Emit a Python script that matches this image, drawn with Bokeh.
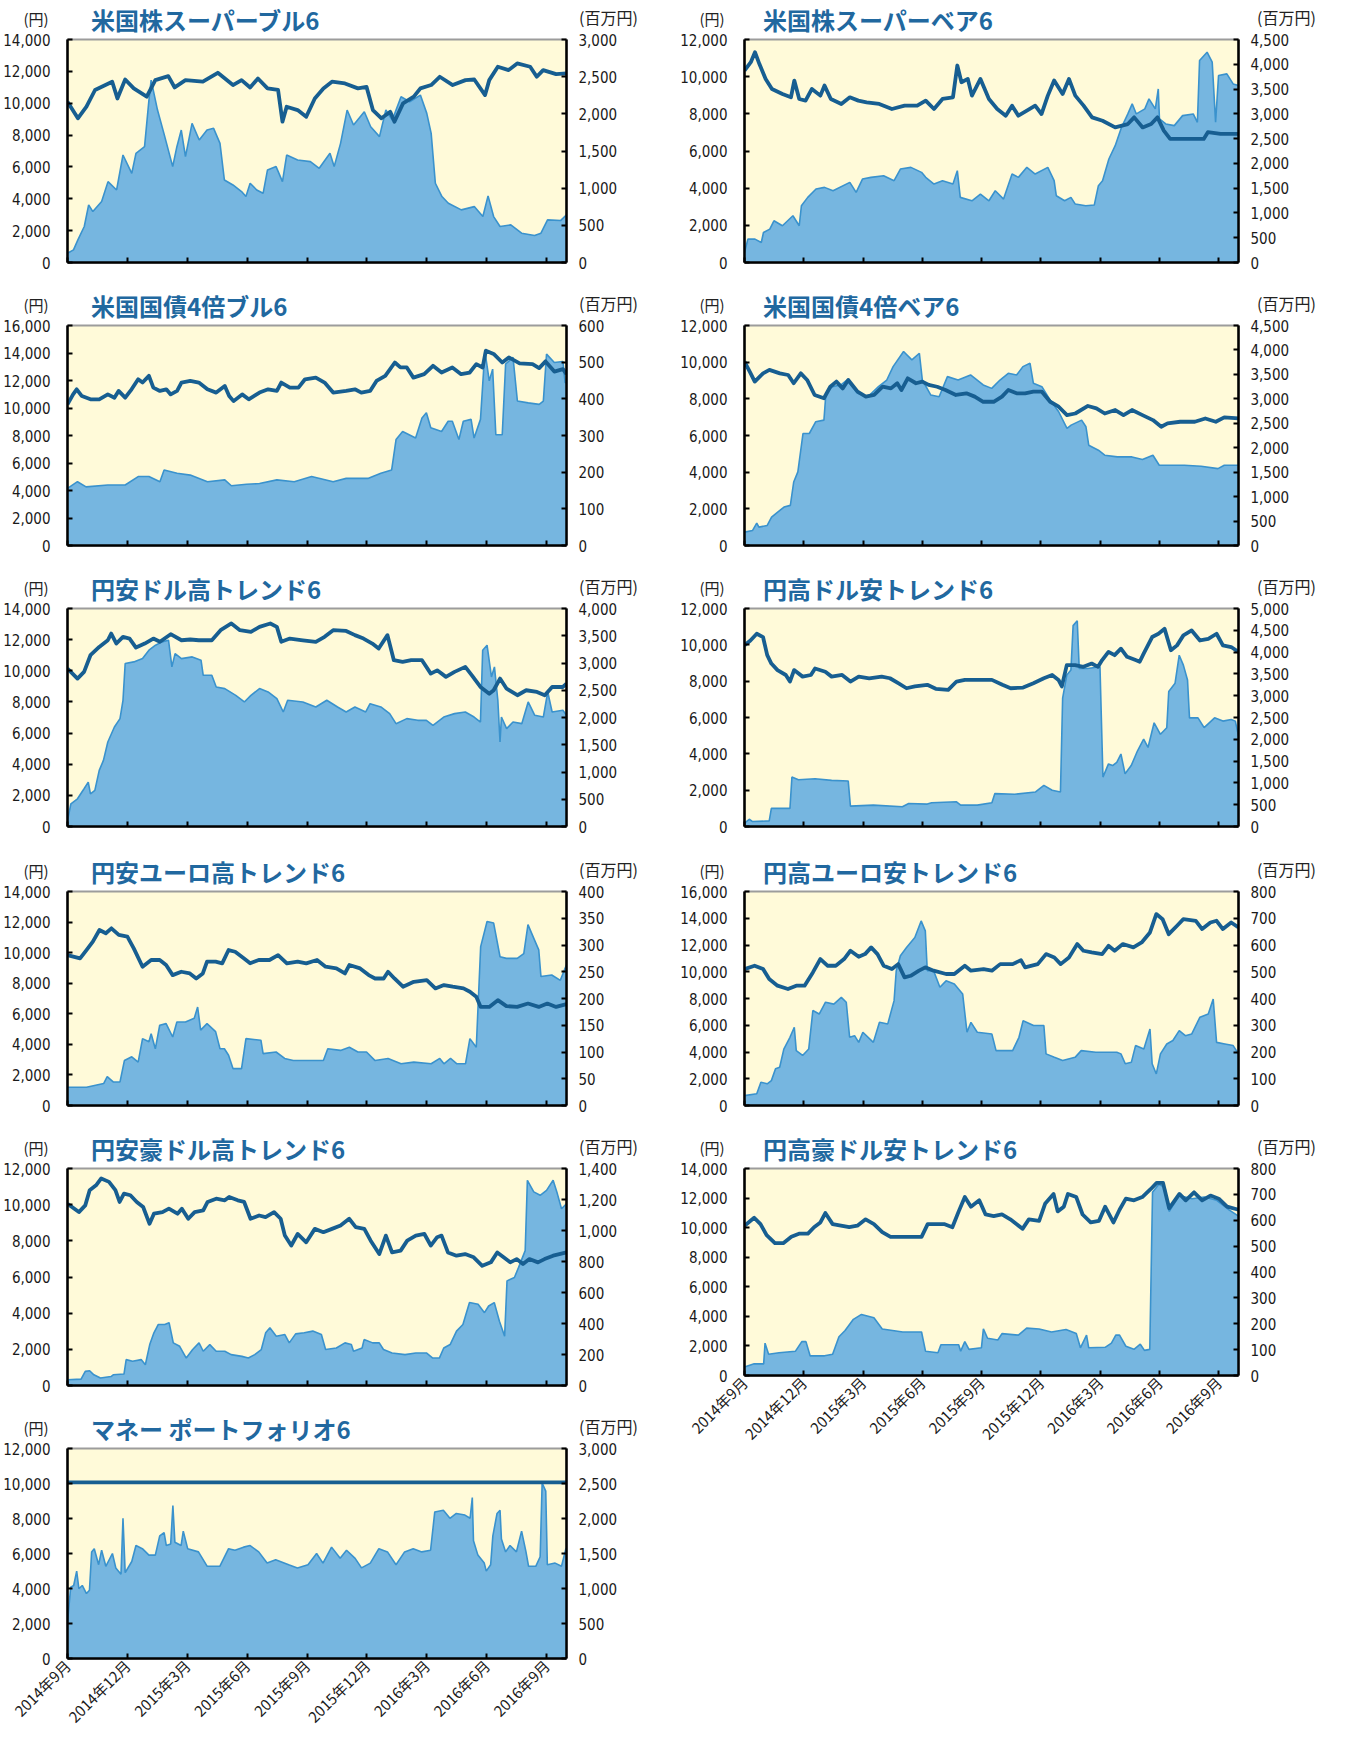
import math
from bokeh.plotting import figure
from bokeh.models import Range1d, LinearAxis, FixedTicker, SingleIntervalTicker, NumeralTickFormatter, Div
from bokeh.layouts import row, column
from bokeh.embed import file_html
from bokeh.resources import INLINE

# ---------------- x axis (months since 2014-09) ----------------
X_TICKS = [0, 3, 6, 9, 12, 15, 18, 21, 24]
X_TICK_LABELS = ["2014年9月", "2014年12月", "2015年3月", "2015年6月", "2015年9月",
                 "2015年12月", "2016年3月", "2016年6月", "2016年9月"]
X_END = 25.0

# ---------------- panel titles / axis ranges ----------------
TITLES_LEFT = ["米国株スーパーブル6", "米国国債4倍ブル6", "円安ドル高トレンド6",
               "円安ユーロ高トレンド6", "円安豪ドル高トレンド6", "マネー ポートフォリオ6"]
TITLES_RIGHT = ["米国株スーパーベア6", "米国国債4倍ベア6", "円高ドル安トレンド6",
                "円高ユーロ安トレンド6", "円高豪ドル安トレンド6"]
UNIT_LEFT = "(円)"
UNIT_RIGHT = "(百万円)"
LEFT_MAX_L = [14000, 16000, 14000, 14000, 12000, 12000]
RIGHT_MAX_L = [3000, 600, 4000, 400, 1400, 3000]
RIGHT_STEP_L = [500, 100, 500, 50, 200, 500]
LEFT_MAX_R = [12000, 12000, 12000, 16000, 14000]
RIGHT_MAX_R = [4500, 4500, 5000, 800, 800]
RIGHT_STEP_R = [500, 500, 500, 100, 100]

# ---------------- series: (month, 円) line, (month, 百万円) area ----------------
US_BULL_PRICE = [(0, 10090), (0.52, 9050), (0.95, 9780), (1.38, 10830), (2.24, 11350), (2.5, 10300), (2.89, 11490),
    (3.32, 10930), (3.97, 10410), (4.4, 11450), (5.05, 11700), (5.37, 10990), (5.91, 11450), (6.78, 11350),
    (7.53, 11910), (8.29, 11140), (8.72, 11450), (9.15, 10990), (9.54, 11550), (10.02, 10930), (10.55, 10830),
    (10.77, 8840), (10.98, 9780), (11.53, 9570), (11.96, 9150), (12.39, 10300), (12.82, 10930), (13.25, 11350),
    (13.9, 11240), (14.55, 10930), (14.98, 11030), (15.3, 9570), (15.73, 9050), (16.17, 9460), (16.38, 8840),
    (16.81, 9990), (17.35, 10410), (17.68, 10930), (18.22, 11140), (18.65, 11660), (19.3, 11140), (19.94, 11450),
    (20.38, 11490), (20.92, 10510), (21.13, 11450), (21.56, 12290), (22.1, 12080), (22.53, 12500), (23.18, 12290),
    (23.51, 11660), (23.83, 12080), (24.48, 11830), (25.0, 11870)]
US_BULL_ASSETS = [(0, 125), (0.3, 170), (0.52, 305), (0.84, 484), (1.06, 775), (1.27, 685), (1.71, 820), (2.03, 1088),
    (2.46, 976), (2.78, 1446), (3.22, 1200), (3.43, 1469), (3.86, 1558), (4.08, 2185), (4.19, 2454), (4.51, 2051),
    (4.83, 1737), (5.27, 1290), (5.48, 1558), (5.7, 1782), (5.91, 1424), (6.24, 1872), (6.6, 1648), (6.99, 1782),
    (7.32, 1805), (7.64, 1603), (7.86, 1110), (8.29, 1043), (8.72, 954), (8.94, 887), (9.15, 1066), (9.48, 976),
    (9.8, 931), (10.02, 1245), (10.45, 1290), (10.77, 1088), (10.98, 1446), (11.53, 1379), (12.17, 1357),
    (12.61, 1267), (13.15, 1469), (13.36, 1290), (13.68, 1603), (14.01, 2051), (14.33, 1850), (14.87, 2028),
    (15.19, 1827), (15.63, 1693), (15.95, 2051), (16.27, 1917), (16.71, 2230), (17.14, 2163), (17.68, 2252),
    (18.0, 2006), (18.22, 1737), (18.43, 1066), (18.76, 887), (19.08, 797), (19.73, 708), (20.38, 752), (20.81, 618),
    (21.07, 896), (21.35, 618), (21.67, 484), (22.21, 506), (22.75, 394), (23.4, 363), (23.72, 394), (24.05, 573),
    (24.7, 564), (25.0, 640)]

US_BEAR_PRICE = [(0, 10330), (0.32, 10780), (0.53, 11320), (0.75, 10690), (1.07, 9880), (1.39, 9340), (1.92, 9070),
    (2.35, 8890), (2.52, 9790), (2.77, 8800), (3.09, 8710), (3.41, 9340), (3.84, 8980), (4.05, 9520), (4.37, 8800),
    (4.9, 8530), (5.33, 8890), (5.76, 8710), (6.18, 8620), (6.82, 8530), (7.46, 8260), (8.1, 8440), (8.74, 8440),
    (9.17, 8710), (9.59, 8260), (10.02, 8800), (10.55, 8890), (10.77, 10600), (10.98, 9700), (11.3, 9880),
    (11.51, 8980), (11.94, 9880), (12.37, 8800), (12.79, 8260), (13.22, 7900), (13.54, 8440), (13.86, 7900),
    (14.29, 8170), (14.71, 8440), (15.03, 7990), (15.35, 8980), (15.67, 9790), (16.1, 9070), (16.42, 9880),
    (16.74, 8980), (17.16, 8440), (17.59, 7810), (18.12, 7630), (18.76, 7270), (19.4, 7450), (19.72, 7810),
    (20.15, 7270), (20.58, 7450), (20.9, 7810), (21.22, 7100), (21.54, 6650), (22.39, 6650), (23.24, 6650),
    (23.45, 7010), (24.09, 6920), (25.0, 6920)]
US_BEAR_ASSETS = [(0, 202), (0.17, 472), (0.53, 472), (0.85, 404), (0.96, 606), (1.28, 674), (1.49, 842), (1.92, 741),
    (2.45, 943), (2.77, 741), (2.88, 1145), (3.2, 1314), (3.62, 1482), (4.05, 1516), (4.48, 1448), (5.33, 1617),
    (5.65, 1415), (5.97, 1684), (6.4, 1718), (7.04, 1752), (7.57, 1651), (7.89, 1886), (8.42, 1920), (8.96, 1819),
    (9.17, 1718), (9.59, 1583), (10.02, 1651), (10.55, 1583), (10.77, 1853), (10.92, 1314), (11.51, 1246),
    (11.94, 1381), (12.37, 1246), (12.69, 1448), (13.11, 1280), (13.54, 1785), (13.86, 1718), (14.29, 1920),
    (14.71, 1785), (15.35, 1920), (15.67, 1651), (15.78, 1347), (16.2, 1246), (16.52, 1314), (16.74, 1179),
    (17.27, 1145), (17.7, 1159), (17.91, 1550), (18.12, 1651), (18.44, 2088), (18.76, 2358), (19.08, 2728),
    (19.4, 2998), (19.62, 3200), (19.83, 2998), (20.26, 3099), (20.47, 3301), (20.79, 3099), (20.94, 3503),
    (21.0, 2897), (21.32, 2796), (21.75, 2762), (22.17, 2964), (22.71, 2998), (22.92, 2829), (23.03, 4076),
    (23.41, 4244), (23.67, 4042), (23.84, 2829), (23.99, 3773), (24.41, 3806), (24.73, 3604), (25.0, 3570)]

UST_BULL_PRICE = [(0, 10260), (0.28, 10990), (0.46, 11360), (0.72, 10870), (1.15, 10630), (1.59, 10630), (2.02, 10990),
    (2.35, 10750), (2.56, 11240), (2.89, 10750), (3.21, 11360), (3.54, 12090), (3.76, 11850), (4.08, 12340),
    (4.3, 11480), (4.63, 11240), (4.95, 11360), (5.17, 10990), (5.49, 11240), (5.71, 11850), (6.15, 11970),
    (6.58, 11850), (7.01, 11360), (7.45, 11120), (7.88, 11600), (8.1, 10870), (8.32, 10500), (8.75, 10990),
    (9.08, 10630), (9.62, 11120), (10.05, 11360), (10.49, 11240), (10.71, 11850), (11.14, 11480), (11.57, 11480),
    (11.9, 12090), (12.44, 12210), (12.88, 11850), (13.31, 11120), (13.96, 11240), (14.4, 11360), (14.72, 11120),
    (15.16, 11240), (15.48, 11970), (15.92, 12340), (16.4, 13310), (16.68, 12950), (17.0, 12950), (17.33, 12210),
    (17.87, 12460), (18.31, 13070), (18.74, 12580), (19.28, 12950), (19.72, 12460), (20.15, 12580), (20.48, 13190),
    (20.8, 12950), (20.96, 14170), (21.35, 13930), (21.78, 13310), (22.11, 13680), (22.65, 13240), (23.3, 13190),
    (23.63, 12900), (23.95, 13390), (24.39, 12650), (24.82, 12830), (25.0, 12460)]
UST_BULL_ASSETS = [(0, 156), (0.5, 174), (0.93, 160), (2.02, 165), (2.89, 165), (3.54, 188), (4.08, 188), (4.63, 174),
    (4.84, 206), (5.49, 197), (6.15, 192), (7.01, 174), (7.88, 179), (8.21, 163), (8.97, 167), (9.62, 169),
    (10.49, 179), (11.36, 174), (12.23, 188), (13.31, 174), (13.96, 183), (15.05, 183), (15.7, 197), (16.24, 206),
    (16.46, 289), (16.79, 311), (17.44, 293), (17.76, 348), (17.98, 362), (18.2, 321), (18.74, 311), (19.07, 339),
    (19.28, 339), (19.61, 289), (19.83, 339), (20.22, 344), (20.37, 293), (20.69, 344), (20.91, 531), (21.13, 449),
    (21.3, 481), (21.46, 302), (21.78, 302), (21.95, 495), (22.32, 513), (22.54, 394), (23.08, 389), (23.63, 385),
    (23.84, 394), (24.0, 522), (24.39, 499), (24.82, 502), (24.93, 444), (25.0, 444)]

UST_BEAR_PRICE = [(0, 10030), (0.31, 9390), (0.52, 8940), (0.94, 9390), (1.26, 9580), (1.79, 9390), (2.21, 9300),
    (2.49, 8850), (2.85, 9390), (3.17, 9030), (3.55, 8210), (4.02, 8030), (4.34, 8660), (4.65, 8940), (4.97, 8570),
    (5.25, 9030), (5.72, 8390), (6.14, 8120), (6.56, 8210), (6.99, 8660), (7.41, 8570), (7.73, 8850), (7.94, 8480),
    (8.26, 9120), (8.68, 8850), (9.0, 8940), (9.32, 8760), (9.75, 8660), (10.17, 8480), (10.7, 8210), (11.23, 8300),
    (11.65, 8120), (12.08, 7840), (12.61, 7840), (13.03, 8120), (13.35, 8480), (13.77, 8300), (14.2, 8300),
    (14.62, 8390), (15.05, 8390), (15.47, 7840), (15.9, 7570), (16.32, 7110), (16.74, 7200), (17.38, 7610),
    (17.81, 7480), (18.23, 7200), (18.76, 7390), (19.18, 7110), (19.61, 7390), (20.14, 7110), (20.67, 6840),
    (21.09, 6480), (21.41, 6660), (22.05, 6750), (22.79, 6750), (23.32, 6930), (23.85, 6750), (24.28, 6990),
    (25.0, 6930)]
UST_BEAR_ASSETS = [(0, 274), (0.41, 308), (0.62, 458), (0.73, 376), (1.15, 410), (1.37, 581), (1.68, 684), (2.0, 786),
    (2.32, 821), (2.49, 1299), (2.7, 1505), (2.96, 2291), (3.28, 2291), (3.6, 2531), (4.02, 2565), (4.12, 3112),
    (4.44, 3249), (4.87, 3283), (5.18, 3385), (5.72, 3112), (6.24, 3043), (6.78, 3249), (7.2, 3385), (7.52, 3659),
    (8.05, 3967), (8.47, 3796), (8.85, 3932), (9.0, 3385), (9.43, 3078), (9.85, 3043), (10.27, 3454), (10.81, 3385),
    (11.44, 3488), (12.08, 3283), (12.51, 3214), (12.93, 3385), (13.35, 3522), (13.77, 3488), (14.09, 3659),
    (14.45, 3727), (14.62, 3317), (15.05, 3249), (15.47, 2975), (15.9, 2736), (16.32, 2394), (16.53, 2462),
    (17.06, 2565), (17.28, 2428), (17.42, 2052), (17.91, 1949), (18.23, 1847), (18.87, 1812), (19.61, 1812),
    (20.14, 1758), (20.67, 1847), (20.99, 1641), (21.63, 1641), (22.26, 1641), (23.11, 1621), (23.96, 1573),
    (24.28, 1641), (25.0, 1641)]

USD_BULL_PRICE = [(0, 10140), (0.5, 9500), (0.83, 9930), (1.15, 11000), (1.59, 11530), (2.02, 11960), (2.19, 12390),
    (2.45, 11750), (2.78, 12180), (3.11, 12070), (3.43, 11490), (3.87, 11750), (4.3, 12070), (4.63, 11860),
    (5.17, 12350), (5.71, 11960), (6.15, 12010), (6.58, 11960), (7.23, 11960), (7.67, 12610), (8.21, 13040),
    (8.64, 12610), (9.19, 12500), (9.62, 12820), (10.16, 13040), (10.49, 12820), (10.71, 11860), (11.14, 12070),
    (11.79, 11960), (12.44, 11860), (12.88, 12180), (13.31, 12610), (13.96, 12560), (14.4, 12290), (14.83, 12070),
    (15.27, 11750), (15.59, 11430), (16.03, 12290), (16.35, 10680), (16.79, 10570), (17.22, 10680), (17.76, 10680),
    (18.2, 9820), (18.52, 10030), (18.96, 9610), (19.39, 9930), (19.93, 10250), (20.26, 9710), (20.69, 8960),
    (21.13, 8530), (21.35, 8750), (21.67, 9500), (22.0, 8850), (22.54, 8430), (22.98, 8750), (23.52, 8640),
    (23.91, 8430), (24.28, 8960), (24.82, 8960), (25.0, 9180)]
USD_BULL_ASSETS = [(0, 110), (0.17, 417), (0.5, 508), (0.83, 692), (1.04, 815), (1.15, 600), (1.37, 662), (1.59, 1029),
    (1.8, 1213), (2.02, 1550), (2.35, 1825), (2.63, 1979), (2.78, 2316), (2.89, 2990), (3.32, 3020), (3.76, 3081),
    (4.08, 3235), (4.41, 3326), (4.73, 3388), (5.06, 3418), (5.23, 2928), (5.39, 3173), (5.71, 3081), (6.25, 3112),
    (6.69, 3051), (6.8, 2775), (7.23, 2775), (7.45, 2561), (7.88, 2530), (8.43, 2407), (8.86, 2285), (9.19, 2407),
    (9.62, 2530), (10.05, 2469), (10.49, 2346), (10.81, 2101), (11.03, 2316), (11.79, 2285), (12.44, 2193),
    (12.99, 2316), (13.53, 2193), (13.96, 2101), (14.4, 2193), (14.94, 2101), (15.16, 2254), (15.7, 2193),
    (16.14, 2071), (16.46, 1887), (17.0, 1979), (17.55, 1948), (17.98, 1948), (18.31, 1856), (18.85, 2009),
    (19.39, 2071), (19.93, 2101), (20.37, 2009), (20.69, 1917), (20.8, 3235), (21.02, 3326), (21.24, 2744),
    (21.39, 2928), (21.56, 2316), (21.67, 1550), (21.74, 2009), (22.0, 1795), (22.32, 1917), (22.76, 1887),
    (23.08, 2285), (23.41, 2040), (23.84, 2009), (24.06, 2469), (24.28, 2101), (24.82, 2132), (25.0, 2040)]

USD_BEAR_PRICE = [(0, 9970), (0.3, 10240), (0.62, 10610), (0.94, 10420), (1.15, 9430), (1.36, 8970), (1.67, 8610),
    (2.09, 8340), (2.3, 7980), (2.51, 8610), (2.94, 8250), (3.36, 8340), (3.57, 8700), (4.09, 8520), (4.41, 8250),
    (4.94, 8340), (5.36, 7980), (5.78, 8250), (6.31, 8160), (6.94, 8250), (7.36, 8160), (7.78, 7890), (8.2, 7610),
    (8.62, 7710), (9.25, 7800), (9.68, 7580), (10.31, 7520), (10.73, 7980), (11.15, 8070), (11.78, 8070),
    (12.52, 8070), (13.05, 7800), (13.47, 7610), (14.1, 7650), (14.62, 7890), (15.15, 8160), (15.57, 8340),
    (15.89, 8070), (16.06, 7710), (16.31, 8880), (16.73, 8880), (17.15, 8790), (17.57, 8970), (17.89, 8790),
    (18.1, 9160), (18.42, 9610), (18.73, 9430), (19.05, 9790), (19.36, 9340), (19.79, 9160), (20.0, 9070),
    (20.2, 9520), (20.63, 10430), (20.95, 10610), (21.26, 10880), (21.58, 9700), (21.89, 9970), (22.21, 10520),
    (22.63, 10790), (23.05, 10240), (23.47, 10330), (23.89, 10610), (24.21, 9970), (24.63, 9880), (25.0, 9610)]
USD_BEAR_ASSETS = [(0, 76), (0.24, 166), (0.41, 113), (1.25, 128), (1.36, 415), (2.3, 415), (2.4, 1133), (2.73, 1073),
    (3.57, 1095), (4.41, 1057), (5.25, 1042), (5.36, 468), (6.52, 491), (7.99, 453), (8.31, 529), (9.25, 514),
    (9.47, 544), (10.73, 566), (10.94, 491), (11.78, 491), (12.52, 544), (12.67, 755), (13.68, 740), (14.73, 793),
    (15.15, 944), (15.57, 831), (15.99, 793), (16.1, 2946), (16.31, 3474), (16.52, 3588), (16.63, 4607),
    (16.84, 4721), (16.94, 3625), (17.36, 3625), (17.99, 3663), (18.14, 1133), (18.42, 1435), (18.63, 1397),
    (18.84, 1473), (19.05, 1662), (19.26, 1208), (19.57, 1397), (19.89, 1737), (20.2, 2002), (20.42, 1813),
    (20.73, 2379), (21.05, 2115), (21.37, 2266), (21.47, 3097), (21.79, 3286), (22.0, 3928), (22.21, 3701),
    (22.42, 3361), (22.52, 2492), (22.95, 2492), (23.26, 2266), (23.79, 2492), (24.21, 2417), (24.63, 2455),
    (24.84, 2417), (25.0, 2077)]

EUR_BULL_PRICE = [(0, 9840), (0.63, 9630), (0.95, 10170), (1.27, 10720), (1.6, 11480), (1.92, 11270), (2.2, 11590),
    (2.57, 11160), (3.0, 11050), (3.32, 10280), (3.76, 9080), (4.19, 9520), (4.62, 9520), (4.94, 9190), (5.27, 8530),
    (5.7, 8750), (6.13, 8640), (6.45, 8310), (6.78, 8640), (6.99, 9410), (7.42, 9410), (7.75, 9300), (8.07, 10170),
    (8.4, 10060), (8.83, 9630), (9.15, 9300), (9.58, 9520), (10.12, 9520), (10.55, 9840), (10.99, 9300),
    (11.53, 9410), (11.96, 9300), (12.5, 9520), (12.93, 9080), (13.47, 8970), (13.9, 8640), (14.12, 9190),
    (14.66, 8970), (15.09, 8530), (15.41, 8310), (15.84, 8310), (16.06, 8750), (16.38, 8310), (16.81, 7770),
    (17.35, 8090), (18.0, 8200), (18.43, 7660), (18.86, 7880), (19.3, 7770), (19.84, 7660), (20.16, 7440),
    (20.48, 7110), (20.7, 6450), (21.13, 6450), (21.56, 6890), (21.99, 6500), (22.53, 6450), (23.07, 6670),
    (23.61, 6450), (24.04, 6670), (24.48, 6450), (25.0, 6630)]
EUR_BULL_ASSETS = [(0, 34), (0.95, 34), (1.81, 41), (1.99, 54), (2.29, 44), (2.63, 44), (2.85, 84), (3.22, 91),
    (3.54, 81), (3.76, 125), (4.08, 119), (4.19, 134), (4.4, 106), (4.62, 150), (4.94, 153), (5.27, 128), (5.48, 156),
    (5.91, 156), (6.35, 163), (6.52, 184), (6.67, 141), (6.99, 153), (7.42, 138), (7.64, 106), (7.86, 106), (8.07, 94),
    (8.29, 69), (8.72, 69), (8.94, 125), (9.69, 122), (9.8, 97), (10.45, 100), (10.88, 88), (11.31, 84), (12.17, 84),
    (12.82, 84), (13.04, 106), (13.68, 103), (14.12, 109), (14.55, 100), (14.98, 100), (15.41, 84), (16.06, 88),
    (16.71, 78), (17.35, 81), (18.22, 78), (18.65, 88), (18.86, 78), (19.19, 88), (19.51, 78), (19.94, 78),
    (20.16, 125), (20.48, 109), (20.7, 297), (21.02, 344), (21.35, 341), (21.67, 278), (21.99, 275), (22.53, 275),
    (22.86, 284), (23.07, 338), (23.4, 309), (23.61, 291), (23.72, 241), (24.26, 244), (24.69, 234), (25.0, 263)]

EUR_BEAR_PRICE = [(0, 10200), (0.51, 10450), (0.94, 10200), (1.25, 9450), (1.67, 8960), (2.2, 8710), (2.62, 8960),
    (3.04, 8960), (3.46, 9950), (3.84, 10950), (4.2, 10450), (4.62, 10450), (5.04, 10950), (5.36, 11570),
    (5.78, 11120), (6.1, 11320), (6.41, 11820), (6.73, 11320), (7.04, 10450), (7.46, 10200), (7.78, 10570),
    (8.1, 9580), (8.41, 9700), (8.83, 10080), (9.15, 10330), (9.57, 10080), (10.2, 9830), (10.62, 9830),
    (11.15, 10450), (11.46, 10080), (12.1, 10200), (12.52, 10080), (12.94, 10570), (13.57, 10570), (13.99, 10870),
    (14.2, 10330), (14.84, 10570), (15.26, 11320), (15.68, 11070), (16.0, 10570), (16.42, 11070), (16.84, 12070),
    (17.15, 11570), (17.57, 11450), (18.1, 11320), (18.42, 11940), (18.73, 11570), (19.15, 12070), (19.68, 11820),
    (20.1, 12190), (20.52, 12940), (20.84, 14310), (21.16, 13930), (21.47, 12810), (21.89, 13440), (22.21, 13930),
    (22.84, 13810), (23.16, 13190), (23.58, 13680), (23.89, 13810), (24.21, 13190), (24.63, 13680), (25.0, 13310)]
EUR_BEAR_ASSETS = [(0, 37), (0.62, 44), (0.83, 87), (1.15, 81), (1.36, 93), (1.57, 137), (1.78, 143), (1.99, 211),
    (2.3, 255), (2.52, 292), (2.62, 205), (2.94, 187), (3.25, 211), (3.46, 355), (3.78, 342), (4.1, 386), (4.52, 379),
    (4.9, 404), (5.15, 386), (5.32, 255), (5.57, 261), (5.78, 236), (5.99, 274), (6.52, 236), (6.83, 311), (7.25, 305),
    (7.57, 392), (7.68, 504), (7.89, 560), (8.2, 591), (8.62, 628), (8.94, 690), (9.15, 653), (9.25, 504), (9.57, 504),
    (9.89, 442), (10.2, 466), (10.62, 454), (11.04, 417), (11.26, 274), (11.46, 311), (11.78, 274), (12.52, 267),
    (12.73, 205), (13.57, 205), (13.89, 255), (14.1, 317), (14.63, 299), (15.15, 299), (15.26, 193), (15.68, 180),
    (16.1, 168), (16.73, 180), (17.04, 205), (17.78, 199), (18.84, 199), (19.05, 193), (19.27, 156), (19.58, 162),
    (19.79, 224), (20.21, 211), (20.52, 286), (20.63, 156), (20.84, 118), (21.05, 193), (21.37, 230), (21.68, 243),
    (22.0, 280), (22.31, 261), (22.63, 267), (23.05, 330), (23.47, 342), (23.72, 398), (23.89, 236), (24.31, 230),
    (24.73, 224), (25.0, 193)]

AUD_BULL_PRICE = [(0, 10050), (0.57, 9590), (0.89, 9960), (1.11, 10800), (1.43, 11070), (1.69, 11450), (2.08, 11260),
    (2.4, 10800), (2.61, 10150), (2.83, 10610), (3.15, 10520), (3.47, 10150), (3.79, 9870), (4.11, 8940), (4.33, 9500),
    (4.76, 9590), (5.08, 9780), (5.51, 9500), (5.73, 9780), (6.05, 9220), (6.37, 9590), (6.8, 9680), (7.02, 10150),
    (7.45, 10330), (7.88, 10240), (8.1, 10430), (8.53, 10240), (8.85, 10150), (9.17, 9220), (9.6, 9400), (9.92, 9310),
    (10.35, 9590), (10.68, 9220), (10.89, 8290), (11.21, 7740), (11.53, 8380), (11.96, 7920), (12.39, 8660),
    (12.82, 8480), (13.25, 8660), (13.68, 8850), (14.11, 9220), (14.44, 8760), (14.87, 8660), (15.19, 8010),
    (15.62, 7270), (15.95, 8290), (16.26, 7360), (16.69, 7460), (17.02, 8010), (17.45, 8290), (17.88, 8380),
    (18.2, 7740), (18.52, 8200), (18.74, 8290), (19.06, 7360), (19.49, 7180), (19.92, 7270), (20.35, 7090),
    (20.78, 6620), (21.21, 6810), (21.53, 7360), (21.85, 7090), (22.18, 6810), (22.5, 6990), (22.82, 6720),
    (23.14, 6990), (23.57, 6810), (23.9, 6990), (24.33, 7180), (25.0, 7360)]
AUD_BULL_ASSETS = [(0, 37), (0.68, 41), (0.89, 91), (1.11, 95), (1.32, 69), (1.65, 48), (2.18, 58), (2.29, 69),
    (2.83, 74), (2.94, 167), (3.26, 156), (3.69, 167), (3.9, 134), (4.12, 264), (4.33, 340), (4.55, 394), (4.87, 394),
    (5.09, 405), (5.3, 275), (5.62, 253), (5.95, 177), (6.27, 232), (6.59, 275), (6.8, 221), (7.13, 264), (7.45, 221),
    (7.88, 221), (8.2, 199), (8.74, 188), (9.06, 177), (9.38, 199), (9.71, 232), (9.93, 340), (10.14, 372),
    (10.46, 318), (10.89, 329), (11.11, 275), (11.43, 333), (11.86, 340), (12.29, 351), (12.72, 329), (12.93, 232),
    (13.47, 242), (13.9, 275), (14.22, 264), (14.33, 221), (14.76, 242), (14.86, 296), (15.29, 275), (15.62, 275),
    (15.83, 232), (16.26, 210), (16.91, 199), (17.45, 210), (17.98, 210), (18.3, 177), (18.63, 177), (18.85, 242),
    (19.17, 264), (19.49, 351), (19.81, 394), (20.14, 535), (20.57, 524), (20.89, 470), (21.1, 513), (21.38, 535),
    (21.64, 415), (21.9, 318), (22.02, 675), (22.39, 697), (22.6, 762), (22.93, 870), (23.04, 1324), (23.36, 1249),
    (23.68, 1227), (24.0, 1259), (24.33, 1324), (24.54, 1238), (24.75, 1140), (25.0, 1173)]

AUD_BEAR_PRICE = [(0, 10130), (0.49, 10670), (0.81, 10240), (1.12, 9490), (1.54, 8950), (1.96, 8950), (2.37, 9380),
    (2.79, 9600), (3.21, 9600), (3.52, 10030), (3.84, 10350), (4.09, 10990), (4.46, 10240), (4.88, 10130),
    (5.3, 10030), (5.71, 10130), (6.13, 10560), (6.55, 10240), (6.97, 9700), (7.39, 9380), (7.81, 9380), (8.43, 9380),
    (8.96, 9380), (9.27, 10240), (9.69, 10240), (10.1, 10240), (10.52, 10030), (10.84, 11100), (11.15, 12070),
    (11.46, 11420), (11.88, 11850), (12.2, 10890), (12.61, 10780), (13.03, 10890), (13.45, 10560), (13.76, 10240),
    (14.07, 9920), (14.39, 10560), (14.91, 10460), (15.22, 11640), (15.64, 12280), (15.85, 11100), (16.16, 11420),
    (16.37, 12280), (16.79, 12070), (17.11, 10890), (17.52, 10350), (17.94, 10460), (18.25, 11420), (18.67, 10350),
    (18.98, 11210), (19.3, 11960), (19.71, 11850), (20.13, 12070), (20.55, 12600), (20.86, 13030), (21.18, 13030),
    (21.49, 11310), (22.01, 12280), (22.33, 11850), (22.75, 12390), (23.16, 11850), (23.58, 12170), (24.0, 11960),
    (24.42, 11420), (25.0, 11210)]
AUD_BEAR_ASSETS = [(0, 33), (0.49, 45), (0.97, 45), (1.04, 125), (1.22, 82), (1.75, 88), (2.58, 94), (2.9, 131),
    (3.11, 131), (3.32, 76), (4.05, 76), (4.46, 82), (4.78, 150), (5.09, 174), (5.51, 217), (5.92, 236), (6.55, 223),
    (6.97, 180), (8.01, 168), (8.96, 168), (9.16, 94), (9.79, 88), (9.94, 119), (10.84, 119), (10.94, 94),
    (11.15, 131), (11.36, 101), (11.99, 107), (12.09, 180), (12.3, 144), (12.82, 137), (13.03, 162), (13.86, 156),
    (14.28, 183), (14.91, 180), (15.54, 168), (16.27, 178), (16.79, 162), (17.0, 107), (17.31, 156), (17.42, 107),
    (18.25, 109), (18.57, 125), (18.79, 156), (18.98, 156), (19.3, 113), (19.71, 101), (20.03, 121), (20.24, 97),
    (20.51, 101), (20.65, 708), (20.97, 739), (21.28, 726), (21.49, 634), (22.01, 696), (22.64, 683), (23.27, 690),
    (23.9, 677), (24.52, 640), (25.0, 616)]

MONEY_PRICE = [(0, 10060), (25.0, 10060)]
MONEY_ASSETS = [(0, 517), (0.16, 1020), (0.31, 1043), (0.46, 1248), (0.57, 997), (0.74, 1043), (0.95, 928), (1.1, 974),
    (1.21, 1523), (1.34, 1569), (1.56, 1340), (1.71, 1546), (1.92, 1317), (2.25, 1500), (2.42, 1294), (2.68, 1203),
    (2.78, 2003), (2.89, 1226), (3.22, 1386), (3.43, 1614), (3.75, 1569), (4.08, 1477), (4.4, 1477), (4.62, 1751),
    (4.84, 1797), (4.95, 1614), (5.17, 1637), (5.28, 2186), (5.38, 1660), (5.69, 1614), (5.8, 1820), (6.02, 1569),
    (6.56, 1523), (7.0, 1317), (7.63, 1317), (8.07, 1569), (8.39, 1546), (8.82, 1591), (9.15, 1614), (9.58, 1523),
    (10.0, 1363), (10.43, 1409), (11.08, 1340), (11.52, 1294), (12.05, 1340), (12.48, 1500), (12.8, 1363),
    (13.23, 1591), (13.66, 1431), (13.98, 1546), (14.41, 1431), (14.73, 1294), (15.17, 1363), (15.6, 1569),
    (16.03, 1523), (16.46, 1340), (16.89, 1523), (17.32, 1569), (17.75, 1523), (18.19, 1546), (18.4, 2094),
    (18.83, 2117), (19.16, 2003), (19.48, 2072), (19.91, 2049), (20.17, 2003), (20.28, 2300), (20.34, 1683),
    (20.56, 1477), (20.88, 1363), (20.98, 1248), (21.2, 1340), (21.31, 1751), (21.52, 2072), (21.67, 2117),
    (21.74, 1706), (21.95, 1523), (22.17, 1614), (22.49, 1523), (22.75, 1820), (22.97, 1523), (23.1, 1317),
    (23.46, 1317), (23.68, 1454), (23.78, 2506), (23.96, 2392), (24.04, 1340), (24.43, 1363), (24.75, 1317),
    (24.97, 1569), (25.0, 1569)]

LEFT_SERIES = [(US_BULL_PRICE, US_BULL_ASSETS), (UST_BULL_PRICE, UST_BULL_ASSETS), (USD_BULL_PRICE, USD_BULL_ASSETS),
               (EUR_BULL_PRICE, EUR_BULL_ASSETS), (AUD_BULL_PRICE, AUD_BULL_ASSETS), (MONEY_PRICE, MONEY_ASSETS)]
RIGHT_SERIES = [(US_BEAR_PRICE, US_BEAR_ASSETS), (UST_BEAR_PRICE, UST_BEAR_ASSETS), (USD_BEAR_PRICE, USD_BEAR_ASSETS),
                (EUR_BEAR_PRICE, EUR_BEAR_ASSETS), (AUD_BEAR_PRICE, AUD_BEAR_ASSETS)]

# ---------------- style / layout ----------------
BG = "#FFFAD9"
AREA_FILL = "#76B6E0"
AREA_EDGE = "#3A92CD"
LINE_COLOR = "#175E91"
TITLE_COLOR = "#21689F"
NUM_FONT = "'Liberation Sans Narrow', 'Arial Narrow', 'DejaVu Sans Condensed', sans-serif"
JP_FONT = "Noto Sans CJK JP"

FRAME_TOPS = [39, 325, 608, 891, 1168, 1448]     # page y of each row's plot frame top
FRAME_HS = [223, 220, 218, 214, 217, 220]
PANEL_TOP_B = 7
HDR_GAP = 24                                     # header strip height above each panel
LAST_BOTTOM_B = 68


def style_axis(ax, standoff):
    ax.axis_line_color = "black"
    ax.axis_line_width = 2.5
    ax.major_tick_line_color = "black"
    ax.major_tick_line_width = 2
    ax.major_tick_in = 5
    ax.major_tick_out = 0
    ax.minor_tick_line_color = None
    ax.major_label_text_font = NUM_FONT
    ax.major_label_text_font_size = "15px"
    ax.major_label_text_color = "#1a1a1a"
    ax.major_label_standoff = standoff


def side_geom(side):
    if side == "L":
        return dict(bl=61, br=111, fw=505, tdx=30, unit_dx=13)
    return dict(bl=60, br=95, fw=501, tdx=26, unit_dx=19)


def make_header(title, side, h):
    g = side_geom(side)
    w = g["bl"] + g["fw"] + g["br"]
    off = h - HDR_GAP           # extra space at the top of the first header
    span = ("position:absolute;white-space:nowrap;line-height:24px;height:24px;"
            "font-family:'Noto Sans CJK JP',sans-serif;")
    html = (
        f'<div style="position:relative;width:{w}px;height:{h}px;overflow:visible;">'
        f'<span style="{span}top:{off}px;left:{g["bl"] + g["tdx"]}px;font-size:24px;font-weight:bold;'
        f'color:{TITLE_COLOR};">{title}</span>'
        f'<span style="{span}top:{off - 1}px;left:{g["bl"] - 55}px;width:60px;text-align:center;'
        f'font-size:15px;color:#222222;">{UNIT_LEFT}</span>'
        f'<span style="{span}top:{off - 3}px;left:{g["bl"] + g["fw"] + g["unit_dx"]}px;'
        f'font-size:16px;color:#222222;">{UNIT_RIGHT}</span>'
        f'</div>'
    )
    return Div(text=html, width=w, height=h, margin=(0, 0, 0, 0))


def make_panel(series, lmax, rmax, rstep, side, idx, last):
    line_pts, area_pts = series
    g = side_geom(side)
    fh = FRAME_HS[idx]
    if last:
        h = PANEL_TOP_B + fh + LAST_BOTTOM_B
    else:
        h = FRAME_TOPS[idx + 1] - FRAME_TOPS[idx] - HDR_GAP
    bb = h - PANEL_TOP_B - fh
    p = figure(width=g["bl"] + g["fw"] + g["br"], height=h, x_range=Range1d(0, X_END), y_range=Range1d(0, lmax),
               output_backend="svg", toolbar_location=None,
               min_border_left=g["bl"], min_border_right=g["br"], min_border_top=PANEL_TOP_B, min_border_bottom=bb)
    p.background_fill_color = BG
    p.border_fill_color = "white"
    p.outline_line_color = "#9C9C9C"
    p.outline_line_width = 2
    p.xgrid.visible = False
    p.ygrid.visible = False
    p.extra_y_ranges = {"r": Range1d(0, rmax)}

    ax, ay = [a[0] for a in area_pts], [a[1] for a in area_pts]
    lx, ly = [a[0] for a in line_pts], [a[1] for a in line_pts]
    p.varea(x=ax, y1=0, y2=ay, y_range_name="r", fill_color=AREA_FILL, fill_alpha=1)
    p.line(ax, ay, y_range_name="r", line_color=AREA_EDGE, line_width=1.6)
    p.line(lx, ly, line_color=LINE_COLOR, line_width=3.8, line_join="round")

    yl = p.yaxis[0]
    yl.ticker = SingleIntervalTicker(interval=2000, num_minor_ticks=0)
    yl.formatter = NumeralTickFormatter(format="0,0")
    style_axis(yl, 17)
    yr = LinearAxis(y_range_name="r", ticker=SingleIntervalTicker(interval=rstep, num_minor_ticks=0),
                    formatter=NumeralTickFormatter(format="0,0"))
    style_axis(yr, 12)
    p.add_layout(yr, "right")
    xa = p.xaxis[0]
    xa.ticker = FixedTicker(ticks=X_TICKS)
    style_axis(xa, 4)
    if last:
        xa.major_label_overrides = {t: lab for t, lab in zip(X_TICKS, X_TICK_LABELS)}
        xa.major_label_orientation = math.pi / 4
        xa.major_label_text_font = JP_FONT
        xa.major_label_text_font_size = "15px"
    else:
        xa.major_label_overrides = {t: "" for t in X_TICKS}
    return p


def build_column(titles, series, lmaxs, rmaxs, rsteps, side):
    items = []
    n = len(titles)
    for i in range(n):
        hh = FRAME_TOPS[0] - PANEL_TOP_B if i == 0 else HDR_GAP
        items.append(make_header(titles[i], side, hh))
        items.append(make_panel(series[i], lmaxs[i], rmaxs[i], rsteps[i], side, i, i == n - 1))
    return column(*items, spacing=0)


left_col = build_column(TITLES_LEFT, LEFT_SERIES, LEFT_MAX_L, RIGHT_MAX_L, RIGHT_STEP_L, "L")
right_col = build_column(TITLES_RIGHT, RIGHT_SERIES, LEFT_MAX_R, RIGHT_MAX_R, RIGHT_STEP_R, "R")
layout = row(left_col, right_col, spacing=0)
open("out.html", "w").write(file_html(layout, INLINE))
